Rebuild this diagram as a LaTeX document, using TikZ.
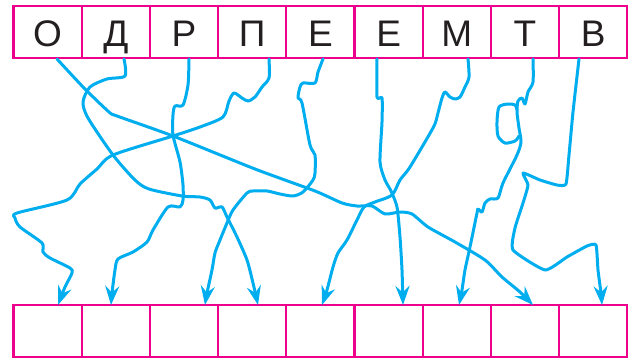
\documentclass[tikz,border=0pt]{standalone}
\usepackage{fontspec}
\setmainfont{Liberation Sans}
\usetikzlibrary{arrows.meta}
\definecolor{mag}{RGB}{236,0,140}
\definecolor{cyn}{RGB}{0,174,239}
\definecolor{ink}{RGB}{35,31,32}
\begin{document}
\begin{tikzpicture}[x=1pt,y=-1pt,
  cell/.style={draw=mag, line width=2.3pt, minimum width=68.2pt, minimum height=52pt,
    inner sep=0pt, outer sep=0pt, text=ink, font=\fontsize{37}{40}\selectfont,
    text height=29pt, text depth=0pt},
  wire/.style={draw=cyn, line width=3pt, line cap=round, line join=round},
  tip/.style={-{Stealth[length=19pt,width=14pt,inset=6.5pt]}}]
\useasboundingbox (0,0) rectangle (630,361);
% top cells
\foreach \l [count=\i] in {О,Д,Р,П,Е,Е,М,Т,В}{
  \node[cell] (t\i) at ({13.5+68.2*(\i-0.5)},32) {\l};
  \node[cell] (b\i) at ({13.5+68.2*(\i-0.5)},331) {};
}
% start and end points
\coordinate (s1) at (57,59);  \coordinate (s2) at (124,59);
\coordinate (s3) at (189,59); \coordinate (s4) at (269,59);
\coordinate (s5) at (323,59); \coordinate (s6) at (377,59);
\coordinate (s7) at (468,59); \coordinate (s8) at (533,59);
\coordinate (s9) at (579,59);
\coordinate (e1) at (58,305);  \coordinate (e2) at (111,305);
\coordinate (e3) at (205,305); \coordinate (e4) at (258,305);
\coordinate (e5) at (322,305); \coordinate (e6) at (403,305);
\coordinate (e7) at (459,305); \coordinate (e8) at (533,305);
\coordinate (e9) at (602,305);
% О -> 8
\draw[wire,tip] plot[smooth,tension=0.4] coordinates {(s1) (84,88) (109,112) (117,116) (173,136)
  (255,169) (315,191) (342,203) (357,206) (372,206) (385,214) (400,212) (412,214) (428,227)
  (455,242) (485,260) (502,277) (520,292) (e8)};
% Д -> 4
\draw[wire,tip] plot[smooth,tension=0.45] coordinates {(s2) (125,76) (107,79) (90,87) (83,102)
  (88,118) (113,155) (135,180) (149,189) (182,196) (200,197) (210,200) (215,208) (222,207)
  (227,217) (237,237) (247,260) (253,283) (e4)};
% Р -> 2
\draw[wire,tip] plot[smooth,tension=0.45] coordinates {(s3) (188,85) (183,105) (175,106) (173,115)
  (173,135) (180,162) (183,185) (183,200) (180,207) (168,207) (153,230) (147,242) (133,252)
  (118,259) (115,270) (112,293) (e2)};
% П -> 1
\draw[wire,tip] plot[smooth,tension=0.45] coordinates {(s4) (269,78) (262,87) (255,97) (248,101)
  (242,98) (234,93) (229,101) (223,117) (200,127) (173,136) (113,155) (97,169) (80,184)
  (67,200) (17,213) (15,218) (20,227) (42,243) (43,252) (50,258) (70,268) (72,273) (65,287) (e1)};
% Е -> 3
\draw[wire,tip] plot[smooth,tension=0.45] coordinates {(s5) (318,72) (315,83) (303,83) (300,87)
  (298,98) (302,103) (310,145) (315,155) (315,173) (313,180) (303,192) (293,196) (280,194)
  (267,191) (253,191) (247,193) (233,210) (227,223) (220,240) (215,253) (212,270) (207,293) (e3)};
% Е -> 6
\draw[wire,tip] plot[smooth,tension=0.4] coordinates {(s6) (377,97) (382,98) (382,122) (380,162)
  (385,180) (391,191) (397,207) (400,237) (402,270) (e6)};
% М -> 5
\draw[wire,tip] plot[smooth,tension=0.45] coordinates {(s7) (469,77) (465,87) (460,97) (455,99)
  (450,97) (445,92) (442,98) (438,113) (437,117) (433,128) (410,167) (400,180) (392,195)
  (375,202) (364,207) (357,220) (347,240) (338,253) (333,267) (327,290) (e5)};
% Т -> 7
\draw[wire,tip] plot[smooth,tension=0.45] coordinates {(s8) (533,82) (528,92) (525,104) (522,98)
  (518,101) (517,112) (519,128) (521,142) (517,155) (503,183) (498,198) (490,199) (485,203)
  (482,212) (478,209) (477,213) (470,247) (465,270) (462,290) (e7)};
\draw[wire] plot[smooth,tension=0.45] coordinates {(517,110) (515,105) (508,104) (499,107)
  (497,122) (498,136) (505,143) (515,141) (519,136)};
% В -> 9
\draw[wire,tip] plot[smooth,tension=0.3] coordinates {(s9) (573,112) (569,155) (566,184)
  (557,185) (540,180) (523,173) (528,185) (523,203) (515,228) (513,250) (545,270) (567,257)
  (587,246) (596,245) (598,270) (601,293) (e9)};
\end{tikzpicture}
\end{document}
